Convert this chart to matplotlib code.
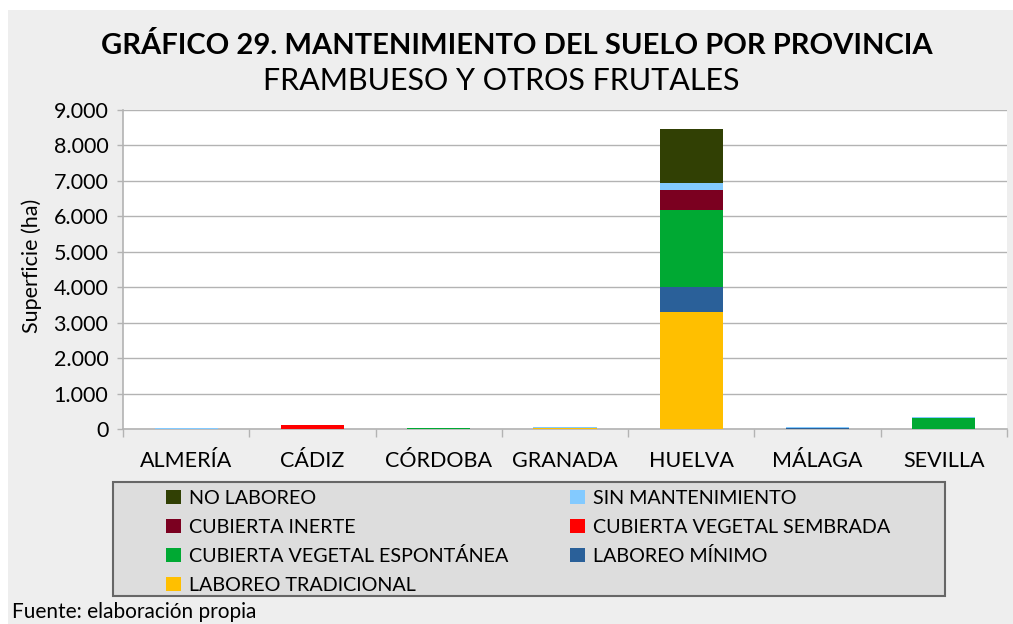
import matplotlib
matplotlib.use("Agg")
import matplotlib.pyplot as plt
import numpy as np
from matplotlib.patches import Rectangle

plt.rcParams["font.family"] = ["Lato", "DejaVu Sans"]

provincias = ["ALMERÍA", "CÁDIZ", "CÓRDOBA", "GRANADA", "HUELVA", "MÁLAGA", "SEVILLA"]

# superficie (ha) por tipo de mantenimiento, de abajo a arriba en la pila
laboreo_tradicional = [0, 0, 0, 30, 3300, 0, 0]
laboreo_minimo = [0, 0, 0, 0, 700, 25, 0]
cubierta_espontanea = [0, 0, 25, 0, 2180, 0, 310]
cubierta_sembrada = [0, 110, 0, 0, 0, 0, 0]
cubierta_inerte = [0, 0, 0, 0, 560, 0, 0]
sin_mantenimiento = [25, 0, 0, 25, 200, 25, 25]
no_laboreo = [0, 0, 0, 0, 1520, 0, 0]

series = [
    ("LABOREO TRADICIONAL", laboreo_tradicional, "#ffbf00"),
    ("LABOREO MÍNIMO", laboreo_minimo, "#2a6099"),
    ("CUBIERTA VEGETAL ESPONTÁNEA", cubierta_espontanea, "#00a933"),
    ("CUBIERTA VEGETAL SEMBRADA", cubierta_sembrada, "#ff0000"),
    ("CUBIERTA INERTE", cubierta_inerte, "#7b0020"),
    ("SIN MANTENIMIENTO", sin_mantenimiento, "#83caff"),
    ("NO LABOREO", no_laboreo, "#314004"),
]

W, H = 1013, 624
fig = plt.figure(figsize=(W / 100, H / 100), dpi=100)
fig.patch.set_facecolor("white")
fig.add_artist(Rectangle((8 / W, 0), 1 - 8 / W, 1 - 10 / H, transform=fig.transFigure,
                         facecolor="#eeeeee", edgecolor="none", zorder=-10))

ax = fig.add_axes([123 / W, 1 - 429 / H, (1007 - 123) / W, (429 - 110) / H])
ax.set_facecolor("white")

x = np.arange(len(provincias))
bottom = np.zeros(len(provincias))
handles = {}
for name, vals, color in series:
    vals = np.array(vals, dtype=float)
    b = ax.bar(x, vals, bottom=bottom, width=0.5, color=color, label=name, zorder=3)
    handles[name] = b
    bottom += vals

ax.set_xlim(-0.5, len(provincias) - 0.5)
ax.set_ylim(0, 9000)
ax.set_yticks(np.arange(0, 9001, 1000))
ax.set_yticklabels([f"{v:,}".replace(",", ".") for v in range(0, 9001, 1000)])
ax.yaxis.grid(True, color="#b3b3b3", linewidth=1, zorder=0)
ax.set_axisbelow(True)

ax.set_xticks(x)
ax.set_xticklabels(provincias)
ax.set_xticks(np.arange(-0.5, len(provincias)), minor=True)
ax.tick_params(axis="x", which="major", length=0, pad=16, labelsize=15.5)
ax.tick_params(axis="x", which="minor", length=6, color="#b3b3b3", width=1)
ax.tick_params(axis="y", length=4.5, color="#b3b3b3", width=1, pad=6, labelsize=15.5)

for s in ["top", "right"]:
    ax.spines[s].set_visible(False)
for s in ["left", "bottom"]:
    ax.spines[s].set_color("#b3b3b3")
    ax.spines[s].set_linewidth(1.2)

fig.text(32 / W, 1 - 266 / H, "Superficie (ha)", rotation=90, ha="center", va="center", fontsize=15.5)

fig.text(517 / W, 1 - 46 / H, "GRÁFICO 29. MANTENIMIENTO DEL SUELO POR PROVINCIA",
         ha="center", va="center", fontsize=21, fontweight="bold")
fig.text(501 / W, 1 - 81 / H, "FRAMBUESO Y OTROS FRUTALES",
         ha="center", va="center", fontsize=22)

# legend box
fig.add_artist(Rectangle((113 / W, 1 - 596 / H), (945 - 113) / W, (596 - 482) / H,
                         transform=fig.transFigure, facecolor="#dddddd",
                         edgecolor="#666666", linewidth=1.5, zorder=1))

col1 = ["NO LABOREO", "CUBIERTA INERTE", "CUBIERTA VEGETAL ESPONTÁNEA", "LABOREO TRADICIONAL"]
col2 = ["SIN MANTENIMIENTO", "CUBIERTA VEGETAL SEMBRADA", "LABOREO MÍNIMO"]
leg_kw = dict(frameon=False, fontsize=14.2, handlelength=0.75, handleheight=0.75,
              handletextpad=0.4, labelspacing=0.58, borderpad=0, borderaxespad=0,
              loc="upper left", bbox_transform=fig.transFigure)
leg1 = fig.legend([handles[n] for n in col1], col1, bbox_to_anchor=(166 / W, 1 - 490 / H), **leg_kw)
leg2 = fig.legend([handles[n] for n in col2], col2, bbox_to_anchor=(570 / W, 1 - 490 / H), **leg_kw)
leg1.set_zorder(5)
leg2.set_zorder(5)

fig.text(12 / W, 1 - 612 / H, "Fuente: elaboración propia", ha="left", va="center", fontsize=15)

fig.savefig("out.png", dpi=100)
